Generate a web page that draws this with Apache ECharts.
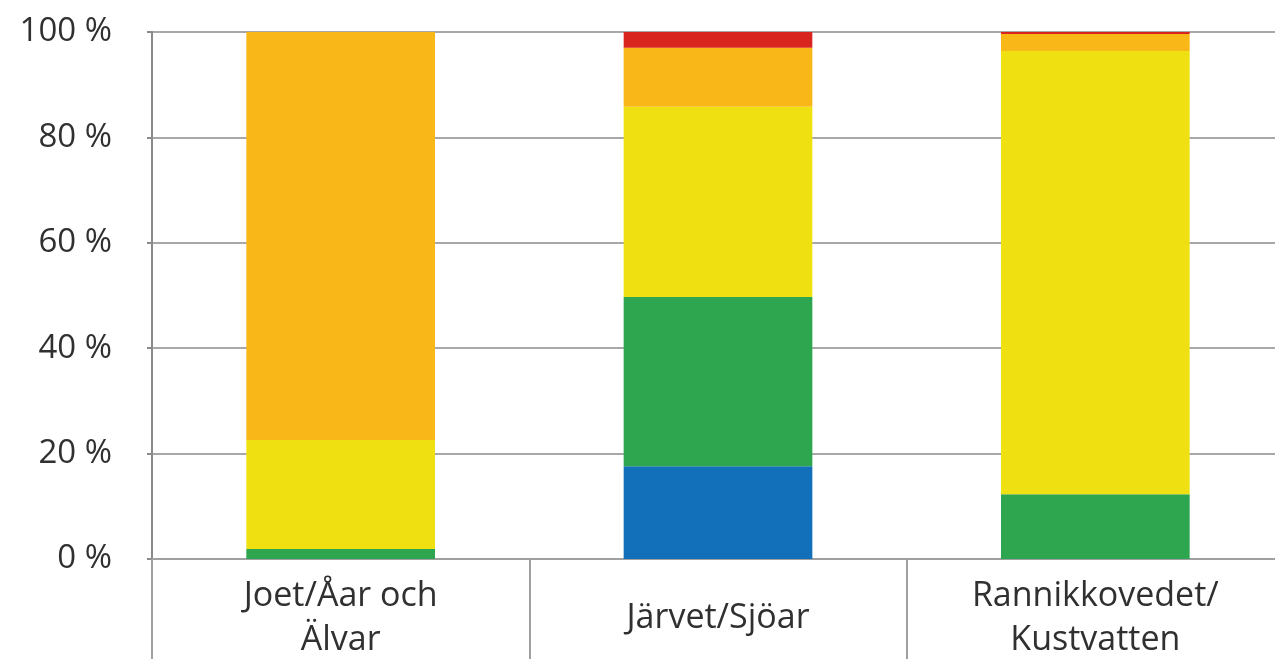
<!DOCTYPE html>
<html><head><meta charset="utf-8">
<script src="https://cdn.jsdelivr.net/npm/echarts@6/dist/echarts.min.js"></script>
<style>html,body{margin:0;padding:0;background:#fff}#c{width:1275px;height:659px}</style>
</head><body><div id="c"></div>
<script>
const categories = ['Joet/Åar och\nÄlvar', 'Järvet/Sjöar', 'Rannikkovedet/\nKustvatten'];
const yTicks = [0, 20, 40, 60, 80, 100];
const sHigh = [0, 17.6, 0];
const sGood = [1.9, 32.1, 12.3];
const sModerate = [20.7, 36.1, 84.1];
const sPoor = [77.4, 11.2, 3.2];
const sBad = [0, 3.0, 0.4];
const seriesNames = ['Erinomainen/Hög', 'Hyvä/God', 'Tyydyttävä/Måttlig', 'Välttävä/Otillfredsställande', 'Huono/Dålig'];
const seriesData = [sHigh, sGood, sModerate, sPoor, sBad];
const colors = ['#1170b9', '#2da64f', '#efe111', '#fab818', '#d8261f'];

const chart = echarts.init(document.getElementById('c'), null, {renderer: 'canvas'});
const font = '"Open Sans", sans-serif';
chart.setOption({
  animation: false,
  grid: {left: 152, top: 32, bottom: 100, right: -9, outerBoundsMode: 'none', containLabel: false},
  xAxis: {
    type: 'category', data: categories,
    axisLine: {lineStyle: {color: '#a0a0a0', width: 2}},
    axisTick: {show: true, length: 100, interval: 0, lineStyle: {color: '#a0a0a0', width: 2}},
    axisLabel: {interval: 0, margin: 59, verticalAlign: 'middle', lineHeight: 44, fontSize: 34, fontWeight: 500, color: '#303030', fontFamily: font}
  },
  yAxis: {
    type: 'value', min: yTicks[0], max: yTicks[yTicks.length - 1], interval: 20,
    axisLine: {show: true, lineStyle: {color: '#8a8a8a', width: 2}},
    axisTick: {show: true, length: 5, lineStyle: {color: '#8a8a8a', width: 2}},
    splitLine: {lineStyle: {color: '#a8a8a8', width: 2}},
    axisLabel: {formatter: '{value} %', margin: 40, fontSize: 33, fontWeight: 500, color: '#303030', fontFamily: font}
  },
  series: seriesData.map((d, i) => ({
    name: seriesNames[i], type: 'bar', stack: 'all', data: d, barWidth: '50%',
    itemStyle: {color: colors[i]}
  }))
});
</script></body></html>
